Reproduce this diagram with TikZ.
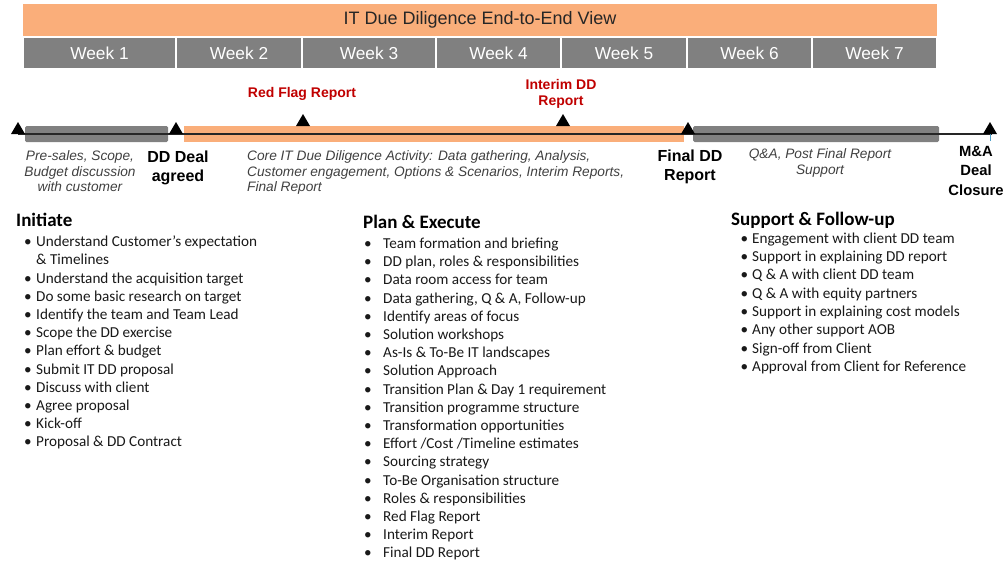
\documentclass[tikz,border=0pt]{standalone}
\usepackage{fontspec}
\setmainfont{Liberation Sans}
\newfontfamily\calib{Carlito}
\definecolor{ddorange}{RGB}{250,174,122}
\definecolor{ddgray}{RGB}{128,128,128}
\definecolor{ddred}{RGB}{192,0,0}
\definecolor{ddtext}{RGB}{64,64,64}
\definecolor{ddtick}{RGB}{80,160,200}
\tikzset{
  titlebox/.style={fill=ddorange, inner sep=0, minimum height=32pt, text=black!85, font=\fontsize{18}{20}\selectfont},
  weekcell/.style={fill=ddgray, draw=white, line width=1.2pt, inner sep=0, minimum height=32pt, text=white, font=\fontsize{17.3}{20}\selectfont},
  barbox/.style={inner sep=0, minimum height=16pt, rounded corners=1.5pt},
  redlabel/.style={text=ddred, align=center, inner sep=0, font=\bfseries\fontsize{14}{16}\selectfont},
  milelabel/.style={text=black, align=center, inner sep=0, font=\bfseries\fontsize{16}{19}\selectfont},
  desclabel/.style={text=ddtext, inner sep=0, font=\itshape\fontsize{13.7}{15.5}\selectfont},
  heading/.style={inner sep=0, anchor=base west, text=black, font=\calib\bfseries\fontsize{19}{22}\selectfont},
  itemtext/.style={inner sep=0, anchor=base west, text=black!90, font=\calib\fontsize{15.2}{18}\selectfont},
  marker/.style={fill=black}
}
\begin{document}
\begin{tikzpicture}[x=1pt,y=-1pt]
\useasboundingbox (0,0) rectangle (1003,562);
% title
\node[titlebox, minimum width=914pt] (title) at (480,20) {IT Due Diligence End-to-End View};
% weeks
\foreach \a/\b/\n in {23/176/1,176/302/2,302/436/3,436/561/4,561/687/5,687/812/6,812/937/7}{
  \pgfmathsetmacro\w{\b-\a}
  \pgfmathsetmacro\c{(\a+\b)/2}
  \node[weekcell, minimum width=\w pt] (week\n) at (\c,53) {Week \n};
}
% bars
\node[barbox, fill=ddgray, minimum width=143pt] (bar1) at (96.5,134) {};
\node[barbox, fill=ddorange, minimum width=500pt, rounded corners=0pt] (bar2) at (434,134) {};
\node[barbox, fill=ddgray, minimum width=246pt] (bar3) at (816,134) {};
% timeline line
\coordinate (tlstart) at (18,134);
\coordinate (tlend) at (992,134);
\draw[line width=1.3pt, black!85] (tlstart) -- (tlend);
\draw[ddtick, line width=1pt] (990,134) -- (990,141);
% milestone markers on line
\foreach \x in {18,176,688,990}{
  \fill[marker] (\x-7,134) -- (\x,122) -- (\x+7,134) -- cycle;
}
% markers on bar
\foreach \x in {303,563}{
  \fill[marker] (\x-7,126) -- (\x,114) -- (\x+7,126) -- cycle;
}
% report labels
\node[redlabel] (redflag) at (302,94) {Red Flag Report};
\node[redlabel] (interim) at (561,94) {Interim DD\\Report};
% milestone labels
\node[milelabel] (ddagreed) at (178,167.5) {DD Deal\\agreed};
\node[milelabel] (finaldd) at (690,166.5) {Final DD\\Report};
\node[milelabel, font=\bfseries\fontsize{14.8}{19.5}\selectfont] (closure) at (976,170.5) {M\&A\\Deal\\Closure};
% descriptions
\node[desclabel, align=center] (presales) at (80,171.5) {Pre-sales, Scope,\\Budget discussion\\with customer};
\node[desclabel, align=left, anchor=west] (core) at (247,172.5) {Core IT Due Diligence Activity: Data gathering, Analysis,\\Customer engagement, Options \& Scenarios, Interim Reports,\\Final Report};
\node[desclabel, align=center] (qa) at (820,163) {Q\&A, Post Final Report\\Support};
% Initiate
\node[heading] (h-ini) at (16,226.7) {Initiate};
\node[itemtext] (ini-0) at (36,246.7) {Understand Customer’s expectation};
\node[itemtext] (ini-00) at (36,264.9) {\& Timelines};
\node[itemtext] (inib-0) at (24,246.7) {•};
\foreach \t [count=\i] in {Understand the acquisition target, Do some basic research on target, Identify the team and Team Lead, Scope the DD exercise, Plan effort \& budget, Submit IT DD proposal, Discuss with client, Agree proposal, Kick-off, Proposal \& DD Contract}{
  \pgfmathsetmacro\yy{246.7+18.2*(\i+1)}
  \node[itemtext] (inib-\i) at (24,\yy) {•};
  \node[itemtext] (ini-\i) at (36,\yy) {\t};
}
% Plan & Execute
\node[heading] (h-plan) at (363,228.3) {Plan \& Execute};
\foreach \t [count=\i from 0] in {Team formation and briefing, {DD plan, roles \& responsibilities}, Data room access for team, {Data gathering, Q \& A, Follow-up}, Identify areas of focus, Solution workshops, As-Is \& To-Be IT landscapes, Solution Approach, Transition Plan \& Day 1 requirement, Transition programme structure, Transformation opportunities, Effort /Cost /Timeline estimates, Sourcing strategy, To-Be Organisation structure, Roles \& responsibilities, Red Flag Report, Interim Report, Final DD Report}{
  \pgfmathsetmacro\yy{248.5+18.2*\i}
  \node[itemtext] (planb-\i) at (364,\yy) {•};
  \node[itemtext] (plan-\i) at (383,\yy) {\t};
}
% Support & Follow-up
\node[heading] (h-sup) at (731,225) {Support \& Follow-up};
\foreach \t [count=\i from 0] in {Engagement with client DD team, Support in explaining DD report, Q \& A with client DD team, Q \& A with equity partners, Support in explaining cost models, Any other support AOB, Sign-off from Client, Approval from Client for Reference}{
  \pgfmathsetmacro\yy{243.3+18.3*\i}
  \node[itemtext] (supb-\i) at (740.5,\yy) {•};
  \node[itemtext] (sup-\i) at (752,\yy) {\t};
}
\end{tikzpicture}
\end{document}
